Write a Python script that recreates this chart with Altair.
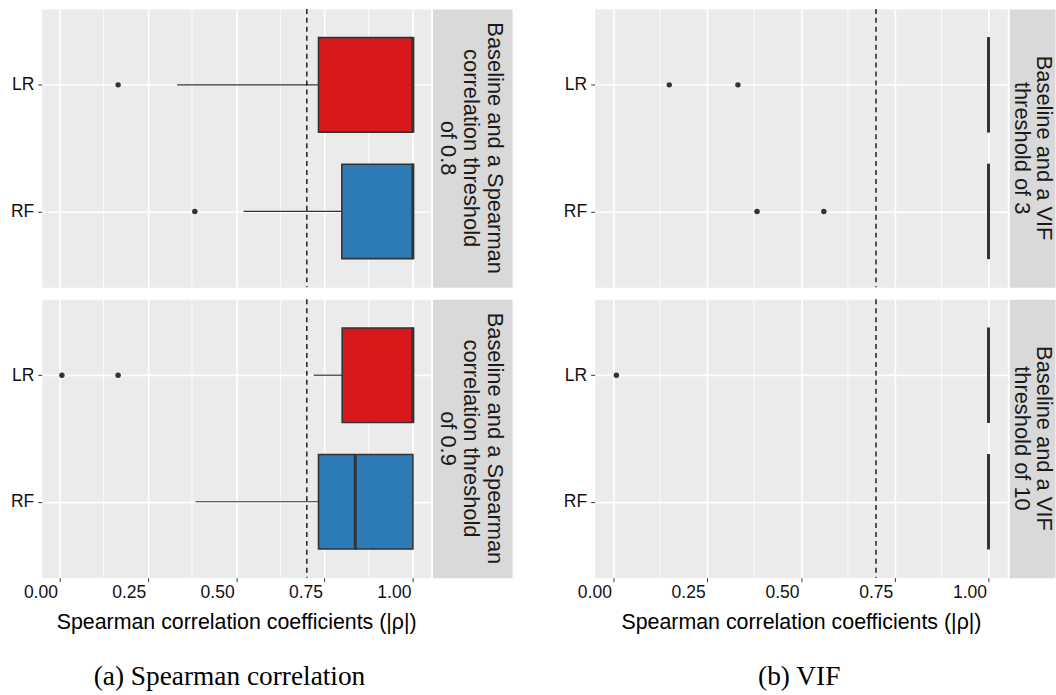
import altair as alt
import pandas as pd

# ---------------- data ----------------
methods = ["LR", "RF"]
method_colors = ["#d7191c", "#2c7bb6"]
x_major = [0.0, 0.25, 0.5, 0.75, 1.0]
x_minor = [0.125, 0.375, 0.625, 0.875]
threshold = [0.7]
x_title = "Spearman correlation coefficients (|ρ|)"

# (a) Spearman correlation, threshold 0.8
a1_low = [0.333, 0.521]
a1_q1 = [0.733, 0.799]
a1_median = [1.0, 1.0]
a1_q3 = [1.0, 1.0]
a1_out_method = ["LR", "RF"]
a1_out_value = [0.166, 0.383]

# (a) Spearman correlation, threshold 0.9
a2_low = [0.719, 0.385]
a2_q1 = [0.800, 0.733]
a2_median = [1.0, 0.837]
a2_q3 = [1.0, 1.0]
a2_out_method = ["LR", "LR"]
a2_out_value = [0.007, 0.166]

# (b) VIF, threshold 3
b1_low = [1.0, 1.0]
b1_q1 = [1.0, 1.0]
b1_median = [1.0, 1.0]
b1_q3 = [1.0, 1.0]
b1_out_method = ["LR", "LR", "RF", "RF"]
b1_out_value = [0.149, 0.332, 0.383, 0.561]

# (b) VIF, threshold 10
b2_low = [1.0, 1.0]
b2_q1 = [1.0, 1.0]
b2_median = [1.0, 1.0]
b2_q3 = [1.0, 1.0]
b2_out_method = ["LR"]
b2_out_value = [0.008]

strip_a1 = ["Baseline and a Spearman", "correlation threshold", "of 0.8"]
strip_a2 = ["Baseline and a Spearman", "correlation threshold", "of 0.9"]
strip_b1 = ["Baseline and a VIF", "threshold of 3"]
strip_b2 = ["Baseline and a VIF", "threshold of 10"]
caption_a = "(a) Spearman correlation"
caption_b = "(b) VIF"

# ---------------- styling ----------------
PANEL_H = 280
DARK = "#333333"
TXT = "#111111"
PANEL_BG = alt.ViewBackground(fill="#EBEBEB", stroke="transparent")
STRIP_BG = alt.ViewBackground(fill="#D9D9D9", stroke="transparent")


def panel(low, q1, med, q3, out_m, out_v, width, bottom):
    box = pd.DataFrame({"method": methods, "low": low, "q1": q1, "median": med, "q3": q3})
    outl = pd.DataFrame({"method": out_m, "value": out_v})
    xs = alt.Scale(domain=[-0.05, 1.05], nice=False, zero=False)
    ys = alt.Scale(type="point", domain=methods, padding=0.6)
    if bottom:
        xa = alt.Axis(values=x_major, format=".2f", title=x_title, labelAlign="right",
                      labelFlush=False, labelOffset=-2, ticks=True, tickSize=4,
                      tickColor=DARK, labelPadding=2, titlePadding=11, domain=False,
                      grid=True, gridColor="white", gridWidth=1.6, labelFontSize=17.6,
                      titleFontSize=21.5, titleFontWeight="normal", labelColor=TXT,
                      titleColor="black")
    else:
        xa = alt.Axis(values=x_major, labels=False, ticks=False, domain=False, grid=True,
                      gridColor="white", gridWidth=1.6, title=None)
    ya = alt.Axis(title=None, domain=False, grid=True, gridColor="white", gridWidth=1.6,
                  tickSize=4, tickColor=DARK, labelPadding=4, labelFontSize=17.6,
                  labelColor=TXT)

    def X(f):
        return alt.X(f, type="quantitative", scale=xs, axis=xa)

    def Y():
        return alt.Y("method", type="nominal", scale=ys, axis=ya, sort=methods)

    minor = alt.Chart(pd.DataFrame({"v": x_minor})).mark_rule(
        color="white", strokeWidth=0.8).encode(x=X("v"))
    whisk = alt.Chart(box).mark_rule(color=DARK, strokeWidth=1.2).encode(
        x=X("low"), x2="q1", y=Y())
    thr = alt.Chart(pd.DataFrame({"v": threshold})).mark_rule(
        color="black", strokeWidth=1.3, strokeDash=[5, 4]).encode(x=X("v"))
    boxes = alt.Chart(box).mark_bar(size=95, stroke=DARK, strokeWidth=1.6).encode(
        x=X("q1"), x2="q3", y=Y(),
        color=alt.Color("method", type="nominal",
                        scale=alt.Scale(domain=methods, range=method_colors), legend=None))
    meds = alt.Chart(box).mark_tick(size=96, thickness=3, color=DARK, opacity=1).encode(
        x=X("median"), y=Y())
    pts = alt.Chart(outl).mark_circle(size=30, color=DARK, opacity=1).encode(
        x=X("value"), y=Y())
    return alt.layer(minor, whisk, thr, boxes, meds, pts).properties(
        width=width, height=PANEL_H, view=PANEL_BG)


def strip(lines, width, first_x, line_h):
    # first line sits at first_x, following lines stack to its left
    df = pd.DataFrame({"label": ["\n".join(lines)]})
    return alt.Chart(df).mark_text(
        angle=90, fontSize=22, lineHeight=line_h, lineBreak="\n", align="center",
        baseline="middle", color="#1a1a1a", clip=True
    ).encode(text="label:N", x=alt.value(first_x), y=alt.value(PANEL_H / 2)).properties(
        width=width, height=PANEL_H, view=STRIP_BG)


pa1 = panel(a1_low, a1_q1, a1_median, a1_q3, a1_out_method, a1_out_value, 391, False)
pa2 = panel(a2_low, a2_q1, a2_median, a2_q3, a2_out_method, a2_out_value, 391, True)
pb1 = panel(b1_low, b1_q1, b1_median, b1_q3, b1_out_method, b1_out_value, 415, False)
pb2 = panel(b2_low, b2_q1, b2_median, b2_q3, b2_out_method, b2_out_value, 415, True)

left = alt.vconcat(
    alt.hconcat(pa1, strip(strip_a1, 80, 63, 24), spacing=0),
    alt.hconcat(pa2, strip(strip_a2, 80, 63, 24), spacing=0),
    spacing=8,
    title=alt.TitleParams(caption_a, orient="bottom", anchor="middle",
                          font="Liberation Serif", fontSize=27.5, fontWeight="normal",
                          color="black", offset=29, dx=-32),
)
right = alt.vconcat(
    alt.hconcat(pb1, strip(strip_b1, 46, 35, 22), spacing=0),
    alt.hconcat(pb2, strip(strip_b2, 46, 35, 22), spacing=0),
    spacing=8,
    title=alt.TitleParams(caption_b, orient="bottom", anchor="middle",
                          font="Liberation Serif", fontSize=27.5, fontWeight="normal",
                          color="black", offset=29, dx=-10),
)

chart = alt.hconcat(
    left, right, spacing=50,
    padding={"left": 10, "top": 5, "right": 0, "bottom": 0},
).configure(font="Liberation Sans", background="white")

chart.save("out.html", embed_options={"renderer": "svg", "actions": False})
